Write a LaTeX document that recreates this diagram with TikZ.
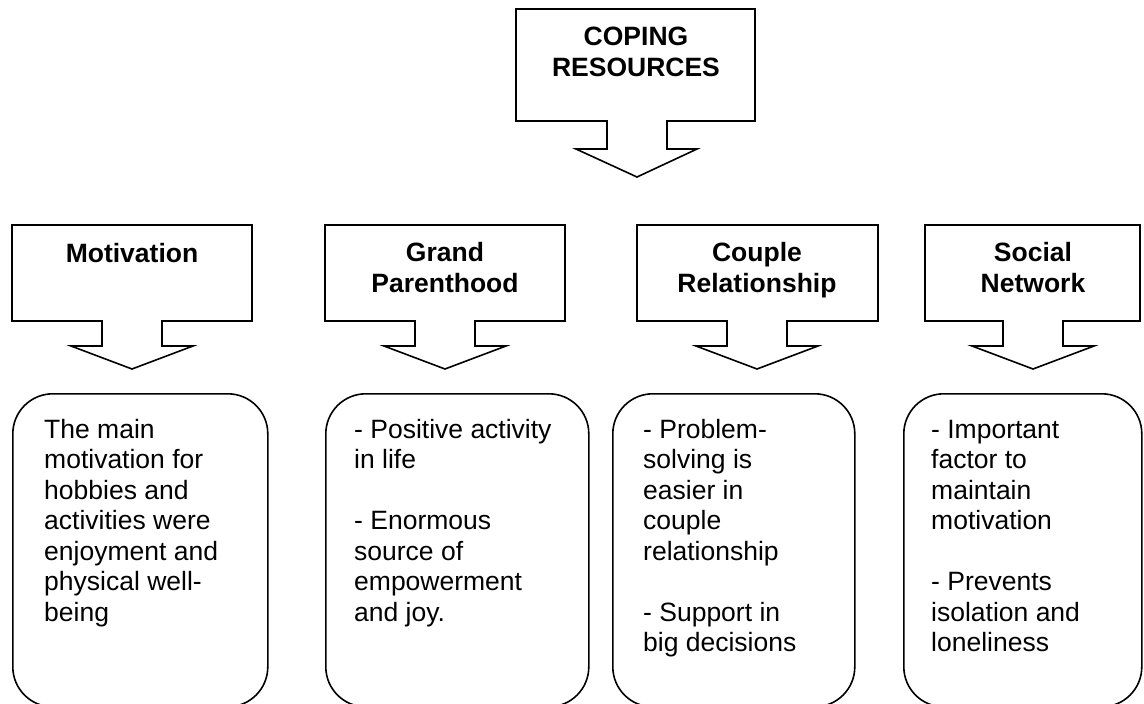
\documentclass[tikz,border=0pt]{standalone}
\usepackage{fontspec}
\setmainfont{Liberation Sans}

\tikzset{
    outline/.style={draw, line width=1.6pt, line join=miter},
    head/.style={font=\fontsize{26.5pt}{31pt}\selectfont\bfseries, align=center, anchor=base, inner sep=0pt},
    body/.style={font=\fontsize{26.5pt}{30.5pt}\selectfont, align=left, anchor=base west, inner sep=0pt},
    card/.style={outline, rounded corners=40pt, anchor=north west, inner sep=0pt}
}

\begin{document}
\begin{tikzpicture}[x=1pt, y=-1pt]
    \useasboundingbox (0,0) rectangle (1144,704);

    % top arrow box
    \draw[outline] (516,9) -- (755,9) -- (755,121) -- (667,121) -- (667,149)
        -- (697,149) -- (637,177) -- (576,149) -- (607,149) -- (607,121)
        -- (516,121) -- cycle;
    \node[head] (coping) at (636,76) {COPING\\RESOURCES};

    % four arrow boxes (base of last line given)
    \foreach \l/\r/\c/\y/\n/\t in {12/252/132/262/motiv/Motivation,
                                325/565/445/292/grand/Grand\\Parenthood,
                                637/878/757/292/couple/Couple\\Relationship,
                                925/1140/1033/292/social/Social\\Network}{
        \draw[outline] (\l,225) -- (\r,225) -- (\r,321) -- ({\c+30},321) -- ({\c+30},346)
            -- ({\c+61},346) -- (\c,369) -- ({\c-61},346) -- ({\c-30},346) -- ({\c-30},321)
            -- (\l,321) -- cycle;
        \node[head] (\n) at (\c,\y) {\t};
    }

    % rounded boxes
    \foreach \l/\w/\n in {12/255/box1, 325/263/box2, 612/242/box3, 903/238/box4}{
        \node[card, minimum width=\w pt, minimum height=313pt] (\n) at (\l,393) {};
    }

    \node[body] (txt1) at (44,621) {The main\\motivation for\\hobbies and\\activities were\\enjoyment and\\physical well-\\being};
    \node[body] (txt2) at (354,621) {- Positive activity\\in life\\[30.5pt]- Enormous\\source of\\empowerment\\and joy.};
    \node[body] (txt3) at (643,651.5) {- Problem-\\solving is\\easier in\\couple\\relationship\\[30.5pt]- Support in\\big decisions};
    \node[body] (txt4) at (931,651.5) {- Important\\factor to\\maintain\\motivation\\[30.5pt]- Prevents\\isolation and\\loneliness};
\end{tikzpicture}
\end{document}
